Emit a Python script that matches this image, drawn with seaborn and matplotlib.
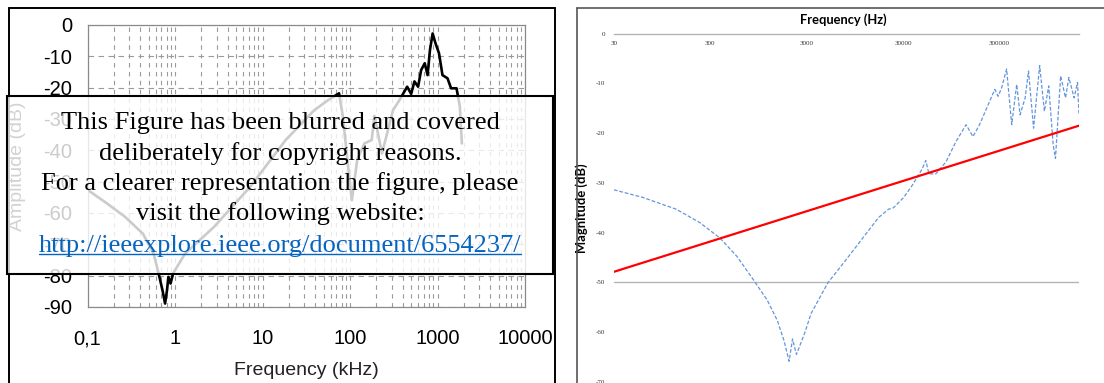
import matplotlib
matplotlib.use("Agg")
import matplotlib.pyplot as plt
import seaborn as sns
import numpy as np
from matplotlib.patches import Rectangle
from matplotlib.lines import Line2D
from matplotlib.ticker import FixedLocator, NullFormatter, LogLocator

# ---------------- data ----------------
# left chart: amplitude vs frequency (kHz)
left_freq_khz = [0.105, 0.168, 0.268, 0.43, 0.57, 0.65, 0.72, 0.77, 0.81, 0.84, 0.89, 0.95,
                 1.3, 2.8, 7.2, 18.4, 39, 56, 75, 83, 95, 105, 121, 146, 177, 190, 232,
                 310, 367, 450, 500, 545, 600, 650, 715, 770, 820, 880, 950, 1040, 1140,
                 1300, 1430, 1650, 1800, 1900]
left_amp_db = [-53, -57, -61.2, -66.6, -73, -79.3, -84.7, -88.9, -84.7, -80.4, -82.5, -79.3,
               -73, -64.4, -51.7, -36.7, -27.2, -24, -21.8, -29.3, -45, -55.9, -43, -37.8,
               -36.7, -29, -41, -27.2, -24, -19.7, -22, -18, -19.7, -14.4, -12.2, -16, -8,
               -2.7, -5.9, -9, -16, -17, -20.2, -20.2, -26, -37.8]
left_xticks = [0.1, 1, 10, 100, 1000, 10000]
left_xticklabels = ["0,1", "1", "10", "100", "1000", "10000"]
left_yticks = [0, -10, -20, -30, -40, -50, -60, -70, -80, -90]

# right chart: magnitude vs frequency (Hz)
right_freq_hz = [30, 59.3, 133, 234, 378, 568, 848, 1170, 1490, 1750, 1973, 2140, 2350, 2840,
                 3330, 4980, 7450, 11150, 16640, 21200, 23900, 30500, 37300, 47300, 51500,
                 55600, 65300, 83400, 106000, 135000, 159000, 186000, 268000, 290000, 315000,
                 355000, 401000, 452000, 490000, 553000, 599000, 676000, 782000, 875000,
                 971000, 1080000, 1140000, 1290000, 1450000, 1570000, 1780000, 1930000, 2000000]
right_mag_db = [-31.4, -32.9, -35.3, -38.0, -41.1, -44.8, -49.6, -53.6, -57.7, -61.8, -65.9,
                -61.4, -64.5, -60.4, -56.3, -50.1, -45.8, -41.4, -37.0, -35.3, -35.0, -32.9,
                -30.5, -27.2, -25.5, -28.2, -28.2, -25.8, -21.7, -18.3, -20.7, -18.3, -11.2,
                -12.6, -10.9, -7.1, -18.3, -10.2, -16.3, -12.9, -7.5, -19.0, -6.4, -15.6,
                -10.5, -22.4, -25.1, -8.5, -12.9, -8.8, -12.9, -9.8, -16.3]
limit_freq_hz = [30, 2000000]
limit_mag_db = [-47.9, -18.5]
right_xticks = [30, 300, 3000, 30000, 300000]
right_xticklabels = ["30", "300", "3000", "30000", "300000"]
right_yticks = [0, -10, -20, -30, -40, -50, -60, -70]

# ---------------- figure ----------------
sns.set_theme(style="white")
plt.rcParams["font.family"] = ["Liberation Sans", "DejaVu Sans"]

W, H = 1104, 383
fig = plt.figure(figsize=(W / 100, H / 100), dpi=100)

def fx(px):
    return px / W

def fy(py):
    return 1 - py / H

# ---- left panel ----
axL = fig.add_axes([fx(87.5), fy(307), fx(525 - 87.5), (307 - 25) / H])
sns.lineplot(x=left_freq_khz, y=left_amp_db, ax=axL, color="black", linewidth=1.9,
             sort=False, zorder=3)
axL.set_xscale("log")
axL.set_xlim(0.1, 10000)
axL.set_ylim(-90, 0)
axL.xaxis.set_major_locator(FixedLocator(left_xticks))
axL.set_xticklabels(left_xticklabels)
axL.xaxis.set_minor_locator(LogLocator(base=10, subs=np.arange(2, 10)))
axL.xaxis.set_minor_formatter(NullFormatter())
axL.set_yticks(left_yticks)
axL.set_yticklabels([str(v) for v in left_yticks])
axL.tick_params(axis="both", which="major", labelsize=14.5, colors="black",
                length=5, width=0.8, direction="out")
axL.tick_params(axis="x", which="major", pad=11)
axL.tick_params(axis="y", which="major", pad=6)
axL.tick_params(axis="x", which="minor", length=0)
for t in axL.get_xticklines() + axL.get_yticklines():
    t.set_color("#888888")
axL.grid(True, which="both", axis="x", color="#9a9a9a", linestyle=(0, (4, 4)), linewidth=0.8)
axL.grid(True, which="major", axis="y", color="#9a9a9a", linestyle=(0, (5, 4)), linewidth=0.8)
for s in axL.spines.values():
    s.set_color("#8a8a8a")
    s.set_linewidth(0.9)
axL.set_xlabel("Frequency (kHz)", fontsize=14, color="#222222")
axL.xaxis.set_label_coords(0.5, -0.195)
axL.set_ylabel("Amplitude (dB)", fontsize=14, color="#222222")
axL.yaxis.set_label_coords(-0.14, 0.5)

# ---- right panel ----
axR = fig.add_axes([fx(613.8), fy(381.7), fx(1079 - 613.8), (381.7 - 33.7) / H])
sns.lineplot(x=right_freq_hz, y=right_mag_db, ax=axR, color="#6496dc", linewidth=0.9,
             linestyle=(0, (3, 1.5)), sort=False, zorder=3)
sns.lineplot(x=limit_freq_hz, y=limit_mag_db, ax=axR, color="#ff0000", linewidth=1.6,
             sort=False, zorder=4)
axR.set_xscale("log")
axR.set_xlim(30, 2000000)
axR.set_ylim(-70, 0)
axR.xaxis.set_major_locator(FixedLocator(right_xticks))
axR.set_xticklabels(right_xticklabels)
axR.xaxis.set_minor_locator(FixedLocator([]))
axR.set_yticks(right_yticks)
axR.set_yticklabels([str(v) for v in right_yticks])
for s in ["top", "right", "left"]:
    axR.spines[s].set_visible(False)
axR.spines["bottom"].set_position(("data", 0))
axR.spines["bottom"].set_color("#b5b5b5")
axR.spines["bottom"].set_linewidth(1.0)
axR.axhline(-50, color="#b5b5b5", linewidth=1.0, zorder=1)
axR.tick_params(axis="both", which="both", length=0, labelsize=5, colors="#333333")
axR.tick_params(axis="x", pad=5)
axR.tick_params(axis="y", pad=6)
for lbl in axR.get_xticklabels() + axR.get_yticklabels():
    lbl.set_family("Liberation Serif")
axR.set_ylabel("Magnitude (dB)", fontsize=9.4, fontweight="bold", family="Lato", color="black")
axR.yaxis.set_label_coords(-0.0555, 0.498)
axR.set_xlabel("")
fig.text(fx(843), fy(20), "Frequency (Hz)", ha="center", va="center", fontsize=9.3,
         fontweight="bold", family="Lato", color="black")

# ---- panel frames ----
fig.add_artist(Line2D([fx(9), fx(9)], [fy(8), 0], transform=fig.transFigure, color="black", lw=1.4))
fig.add_artist(Line2D([fx(9), fx(555)], [fy(8), fy(8)], transform=fig.transFigure, color="black", lw=1.4))
fig.add_artist(Line2D([fx(555), fx(555)], [fy(8), 0], transform=fig.transFigure, color="black", lw=1.4))
fig.add_artist(Line2D([fx(577), fx(577)], [fy(8), 0], transform=fig.transFigure, color="#555555", lw=1.2))
fig.add_artist(Line2D([fx(577), 1], [fy(8), fy(8)], transform=fig.transFigure, color="#555555", lw=1.2))

# ---- copyright overlay box ----
box = Rectangle((fx(7), fy(274)), fx(553 - 7), (274 - 96) / H, transform=fig.transFigure,
                facecolor=(1, 1, 1, 0.8), edgecolor="black", linewidth=1.5, zorder=10)
fig.add_artist(box)
lines = ["This Figure has been blurred and covered",
         "deliberately for copyright reasons.",
         "For a clearer representation the figure, please",
         "visit the following website:"]
ys = [123, 154, 184, 214]
for s, yy in zip(lines, ys):
    fig.text(fx(280), fy(yy), s, ha="center", va="center", fontsize=19,
             family="Liberation Serif", color="black", zorder=11)
link = fig.text(fx(280), fy(246), "http://ieeexplore.ieee.org/document/6554237/", ha="center",
                va="center", fontsize=19, family="Liberation Serif", color="#0563c1", zorder=11)

fig.canvas.draw()
bb = link.get_window_extent(renderer=fig.canvas.get_renderer())
bbf = bb.transformed(fig.transFigure.inverted())
uy = bbf.y0 + 3.0 / H
fig.add_artist(Line2D([bbf.x0, bbf.x1], [uy, uy], transform=fig.transFigure,
                      color="#0563c1", lw=1.0, zorder=11))

fig.savefig("out.png", dpi=100)
